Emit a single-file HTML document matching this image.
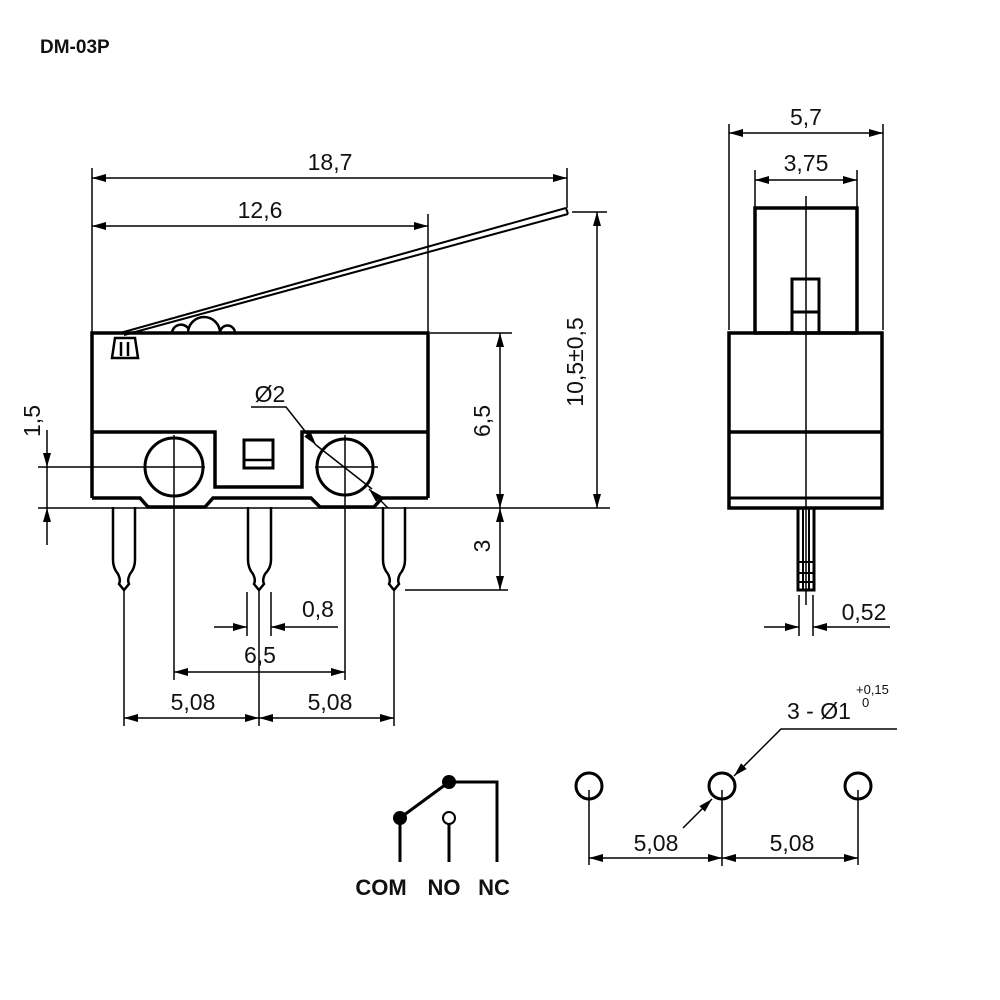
<!DOCTYPE html>
<html><head><style>
html,body{margin:0;padding:0;background:#fff}
svg{display:block}
text{font-family:"Liberation Sans",sans-serif;fill:#111}
</style></head><body>
<svg width="1000" height="1000" viewBox="0 0 1000 1000" xmlns="http://www.w3.org/2000/svg">
<defs>
<marker id="a" viewBox="0 0 14 8" refX="14" refY="4" markerWidth="14" markerHeight="8" markerUnits="userSpaceOnUse" orient="auto-start-reverse"><path d="M0,0 L14,4 L0,8 z" fill="#000"/></marker>
</defs>
<text x="40" y="53" font-size="19" font-weight="bold">DM-03P</text>

<g stroke="#000" fill="none">
<!-- lever -->
<path d="M120,333 L566,208 M124,335 L568,214" stroke-width="2"/>
<path d="M566,208 L568,214" stroke-width="2"/>
<path d="M172,333 A9,9 0 0 1 188,328 M188,333 A14,14 0 0 1 220,333 M220,333 A7,7 0 0 1 235,333" stroke-width="2.5"/>
<!-- body -->
<path d="M92,498 V333 H428 V498" stroke-width="3.5"/>
<path d="M92,432 H215 V487 H302 V432 H428" stroke-width="3.5"/>
<path d="M92,498 H140 L148,507 H205 L213,498 H311 L320,507 H374 L382,498 H428" stroke-width="3.5"/>
<rect x="244" y="440" width="29" height="28" stroke-width="3"/>
<line x1="244" y1="460" x2="273" y2="460" stroke-width="2.5"/>
<circle cx="174" cy="467" r="29" stroke-width="3"/>
<circle cx="345" cy="467" r="28" stroke-width="3"/>
<path d="M115,338 H135 L138,358 H112 Z M121,342 V356 M128,342 V356" stroke-width="2.5"/>
<!-- pins -->
<path d="M113,507 V560 Q113,568 118,574 Q121,580 119,584 L124,590 L129,584 Q127,580 130,574 Q135,568 135,560 V507" stroke-width="2.5"/>
<path d="M248,507 V560 Q248,568 253,574 Q256,580 254,584 L259,590 L264,584 Q262,580 265,574 Q271,568 271,560 V507" stroke-width="2.5"/>
<path d="M383,507 V560 Q383,568 388,574 Q391,580 389,584 L394,590 L399,584 Q397,580 400,574 Q405,568 405,560 V507" stroke-width="2.5"/>
</g>

<g stroke="#000" stroke-width="1.5" fill="none">
<line x1="92" y1="168" x2="92" y2="333"/>
<line x1="567" y1="168" x2="567" y2="208"/>
<line x1="428" y1="214" x2="428" y2="333"/>
<line x1="572" y1="212" x2="607" y2="212"/>
<line x1="430" y1="333" x2="512" y2="333"/>
<line x1="38" y1="508" x2="610" y2="508"/>
<line x1="38" y1="467" x2="205" y2="467"/>
<line x1="315" y1="467" x2="378" y2="467"/>
<line x1="405" y1="590" x2="508" y2="590"/>
<line x1="174" y1="435" x2="174" y2="680"/>
<line x1="345" y1="435" x2="345" y2="680"/>
<line x1="124" y1="590" x2="124" y2="726"/>
<line x1="259" y1="590" x2="259" y2="726"/>
<line x1="394" y1="590" x2="394" y2="726"/>
<line x1="247" y1="592" x2="247" y2="636"/>
<line x1="271" y1="592" x2="271" y2="636"/>
<line x1="92" y1="178" x2="567" y2="178" marker-start="url(#a)" marker-end="url(#a)"/>
<line x1="92" y1="226" x2="428" y2="226" marker-start="url(#a)" marker-end="url(#a)"/>
<line x1="597" y1="212" x2="597" y2="508" marker-start="url(#a)" marker-end="url(#a)"/>
<line x1="500" y1="333" x2="500" y2="508" marker-start="url(#a)" marker-end="url(#a)"/>
<line x1="500" y1="508" x2="500" y2="590" marker-start="url(#a)" marker-end="url(#a)"/>
<line x1="47" y1="430" x2="47" y2="467" marker-end="url(#a)"/>
<line x1="47" y1="545" x2="47" y2="508" marker-end="url(#a)"/>
<line x1="47" y1="467" x2="47" y2="508"/>
<line x1="174" y1="672" x2="345" y2="672" marker-start="url(#a)" marker-end="url(#a)"/>
<line x1="124" y1="718" x2="259" y2="718" marker-start="url(#a)" marker-end="url(#a)"/>
<line x1="259" y1="718" x2="394" y2="718" marker-start="url(#a)" marker-end="url(#a)"/>
<line x1="214" y1="627" x2="247" y2="627" marker-end="url(#a)"/>
<line x1="338" y1="627" x2="271" y2="627" marker-end="url(#a)"/>
<path d="M251,407 H286 L316,445" marker-end="url(#a)"/>
<line x1="316" y1="445" x2="372" y2="489"/>
<line x1="388" y1="508" x2="369" y2="489" marker-end="url(#a)"/>
</g>

<g font-size="23">
<text x="330" y="170" text-anchor="middle">18,7</text>
<text x="260" y="218" text-anchor="middle">12,6</text>
<text transform="translate(583,362) rotate(-90)" text-anchor="middle">10,5±0,5</text>
<text transform="translate(490,421) rotate(-90)" text-anchor="middle">6,5</text>
<text transform="translate(490,546) rotate(-90)" text-anchor="middle">3</text>
<text transform="translate(40,421) rotate(-90)" text-anchor="middle">1,5</text>
<text x="270" y="402" text-anchor="middle">Ø2</text>
<text x="318" y="617" text-anchor="middle">0,8</text>
<text x="260" y="663" text-anchor="middle">6,5</text>
<text x="193" y="710" text-anchor="middle">5,08</text>
<text x="330" y="710" text-anchor="middle">5,08</text>
</g>

<g stroke="#000" fill="none">
<rect x="755" y="208" width="102" height="125" stroke-width="3.5"/>
<rect x="792" y="279" width="27" height="54" stroke-width="3"/>
<line x1="792" y1="312" x2="819" y2="312" stroke-width="3"/>
<rect x="729" y="333" width="153" height="175" stroke-width="3.5"/>
<line x1="729" y1="432" x2="882" y2="432" stroke-width="3.5"/>
<line x1="729" y1="498" x2="882" y2="498" stroke-width="3"/>
<rect x="798" y="508" width="16" height="82" stroke-width="3"/>
<path d="M798,562 H814 M798,573 H814 M798,582 H814 M803,508 V590 M809,508 V590" stroke-width="2"/>
</g>
<g stroke="#000" stroke-width="1.5" fill="none">
<line x1="806" y1="196" x2="806" y2="605"/>
<line x1="729" y1="124" x2="729" y2="330"/>
<line x1="883" y1="124" x2="883" y2="330"/>
<line x1="755" y1="170" x2="755" y2="208"/>
<line x1="857" y1="170" x2="857" y2="208"/>
<line x1="729" y1="133" x2="883" y2="133" marker-start="url(#a)" marker-end="url(#a)"/>
<line x1="755" y1="180" x2="857" y2="180" marker-start="url(#a)" marker-end="url(#a)"/>
<line x1="799" y1="595" x2="799" y2="636"/>
<line x1="813" y1="595" x2="813" y2="636"/>
<line x1="764" y1="627" x2="799" y2="627" marker-end="url(#a)"/>
<line x1="890" y1="627" x2="813" y2="627" marker-end="url(#a)"/>
</g>
<g font-size="23">
<text x="806" y="125" text-anchor="middle">5,7</text>
<text x="806" y="171" text-anchor="middle">3,75</text>
<text x="864" y="620" text-anchor="middle">0,52</text>
</g>

<g stroke="#000" stroke-width="3" fill="none">
<line x1="400" y1="818" x2="400" y2="862"/>
<line x1="449" y1="824" x2="449" y2="862"/>
<path d="M449,782 H497 V862"/>
<line x1="400" y1="818" x2="449" y2="782"/>
<circle cx="449" cy="818" r="6" stroke-width="2"/>
</g>
<circle cx="400" cy="818" r="7" fill="#000"/>
<circle cx="449" cy="782" r="7" fill="#000"/>
<g font-size="22" font-weight="bold">
<text x="381" y="895" text-anchor="middle">COM</text>
<text x="444" y="895" text-anchor="middle">NO</text>
<text x="494" y="895" text-anchor="middle">NC</text>
</g>

<g stroke="#000" fill="none">
<circle cx="589" cy="786" r="13" stroke-width="3"/>
<circle cx="722" cy="786" r="13" stroke-width="3"/>
<circle cx="858" cy="786" r="13" stroke-width="3"/>
</g>
<g stroke="#000" stroke-width="1.5" fill="none">
<line x1="589" y1="790" x2="589" y2="865"/>
<line x1="722" y1="790" x2="722" y2="866"/>
<line x1="858" y1="790" x2="858" y2="865"/>
<line x1="589" y1="858" x2="722" y2="858" marker-start="url(#a)" marker-end="url(#a)"/>
<line x1="722" y1="858" x2="858" y2="858" marker-start="url(#a)" marker-end="url(#a)"/>
<path d="M897,729 H781 L734,776" marker-end="url(#a)"/>
<line x1="683" y1="828" x2="712" y2="799" marker-end="url(#a)"/>
</g>
<g font-size="23">
<text x="656" y="851" text-anchor="middle">5,08</text>
<text x="792" y="851" text-anchor="middle">5,08</text>
<text x="787" y="719">3 - Ø1</text>
</g>
<text x="856" y="694" font-size="13">+0,15</text>
<text x="862" y="707" font-size="13">0</text>
</svg>
</body></html>
